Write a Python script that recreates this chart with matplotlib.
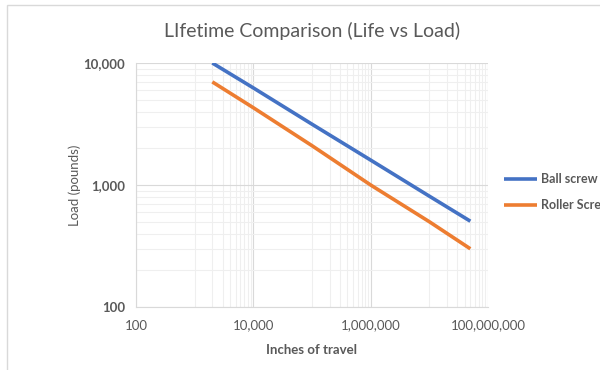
import matplotlib
matplotlib.use("Agg")
import matplotlib.pyplot as plt
from matplotlib.ticker import FixedLocator, FuncFormatter, NullFormatter
from matplotlib.patches import Rectangle

plt.rcParams['font.family'] = ['Lato', 'DejaVu Sans']

# data
travel = [2000, 10000, 100000, 1000000, 10000000, 50000000]
ball_screw = [10000, 6250, 3150, 1600, 810, 505]
roller_screw = [7000, 4300, 2100, 1000, 500, 300]

x_ticks = [100, 10000, 1000000, 100000000]
x_labels = ["100", "10,000", "1,000,000", "100,000,000"]
y_ticks = [100, 1000, 10000]
y_labels = ["100", "1,000", "10,000"]

gray = "#595959"
grid_major = "#d9d9d9"
grid_minor = "#efefef"

fig = plt.figure(figsize=(6, 3.7), dpi=100)
ax = fig.add_axes([136/600, 1 - 307/370, (488 - 136)/600, (307 - 63)/370])

# chart border
fig.patches.append(Rectangle((7/600, -0.1), 1.1, 1.1 - 5/370,
                             transform=fig.transFigure, fill=False,
                             edgecolor="#d9d9d9", linewidth=1))

ax.plot(travel, ball_screw, color="#4472c4", linewidth=2.6, label="Ball screw",
        solid_capstyle="butt")
ax.plot(travel, roller_screw, color="#ed7d31", linewidth=2.6, label="Roller Screw",
        solid_capstyle="butt")

ax.set_xscale("log")
ax.set_yscale("log")
ax.set_xlim(100, 100000000)
ax.set_ylim(100, 10000)

ax.xaxis.set_major_locator(FixedLocator(x_ticks))
ax.xaxis.set_major_formatter(FuncFormatter(lambda v, p: x_labels[x_ticks.index(v)] if v in x_ticks else ""))
xminor = [m * 10 * k for m in x_ticks[:-1] for k in range(1, 10)]
ax.xaxis.set_minor_locator(FixedLocator(xminor))
ax.xaxis.set_minor_formatter(NullFormatter())

ax.yaxis.set_major_locator(FixedLocator(y_ticks))
ax.yaxis.set_major_formatter(FuncFormatter(lambda v, p: y_labels[y_ticks.index(v)] if v in y_ticks else ""))
yminor = [m * k for m in y_ticks[:-1] for k in range(2, 10)]
ax.yaxis.set_minor_locator(FixedLocator(yminor))
ax.yaxis.set_minor_formatter(NullFormatter())

ax.grid(True, which="minor", color=grid_minor, linewidth=0.8)
ax.grid(True, which="major", color=grid_major, linewidth=0.8)
ax.set_axisbelow(True)

for s in ["top", "right"]:
    ax.spines[s].set_visible(False)
for s in ["left", "bottom"]:
    ax.spines[s].set_color(grid_major)
ax.tick_params(which="both", length=0, colors=gray)
ax.tick_params(axis="x", labelsize=9.5, pad=9)
ax.tick_params(axis="y", labelsize=9.5, pad=8)
for t in ax.get_yticklabels():
    t.set_fontweight("bold")

ax.set_xlabel("Inches of travel", color=gray, fontsize=9.5, fontweight="bold", labelpad=9)
ax.set_ylabel("Load (pounds)", color=gray, fontsize=9.5)
ax.yaxis.set_label_coords(-(136 - 81)/352, 0.5)
ax.set_title("LIfetime Comparison (Life vs Load)", color=gray, fontsize=14, pad=19)

leg = ax.legend(loc="center left", bbox_to_anchor=(1.03, 0.47), frameon=False,
                fontsize=9, handlelength=2.7, handletextpad=0.3, labelspacing=1.1,
                borderaxespad=0)
for t in leg.get_texts():
    t.set_color(gray)
    t.set_fontweight("bold")

fig.savefig("out.png", dpi=100)
